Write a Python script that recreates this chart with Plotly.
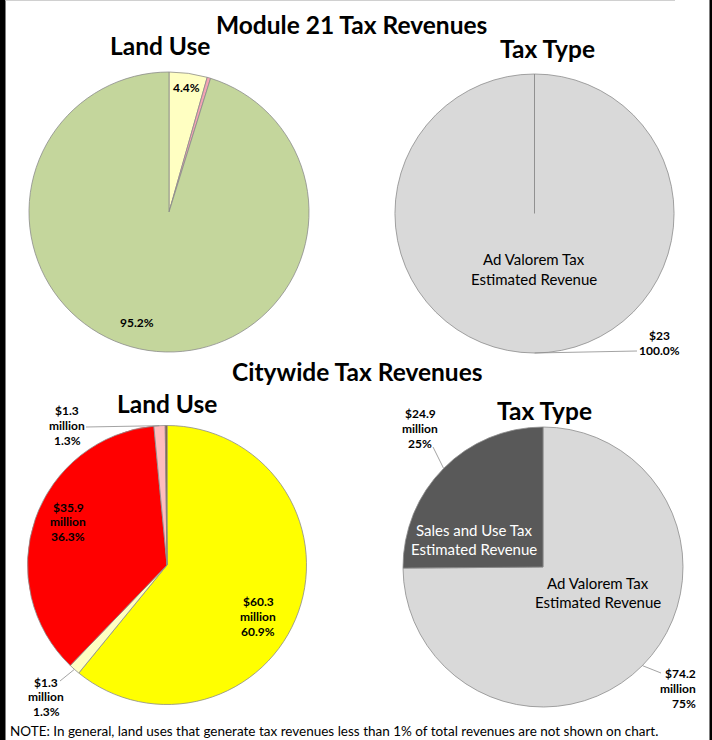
import math
import plotly.graph_objects as go

W, H = 712, 740
FONT = "Lato"

# ---------------- data ----------------
m21_land_labels = ["Commercial", "Office", "Residential"]
m21_land_pct = [4.4, 0.4, 95.2]
m21_land_colors = ["#FFFFC2", "#F4A3B4", "#C4D69C"]

m21_tax_labels = ["Ad Valorem Tax Estimated Revenue"]
m21_tax_pct = [100.0]
m21_tax_dollars = ["$23"]
m21_tax_colors = ["#D9D9D9"]

city_land_labels = ["Residential", "Commercial", "Industrial", "Office", "Other"]
city_land_pct = [60.9, 1.3, 36.3, 1.3, 0.2]
city_land_millions = [60.3, 1.3, 35.9, 1.3, None]
city_land_colors = ["#FFFF00", "#FFFFC2", "#FF0000", "#FFBDBD", "#8B4A2B"]

city_tax_labels = ["Ad Valorem Tax Estimated Revenue", "Sales and Use Tax Estimated Revenue"]
city_tax_millions = [74.2, 24.9]
city_tax_pct = [75, 25]
city_tax_colors = ["#D9D9D9", "#595959"]

# ---------------- layout helpers ----------------
def X(px):
    return px / W


def Y(py):
    return 1 - py / H


def dom(cx, cy, r):
    return dict(x=[X(cx - r), X(cx + r)], y=[Y(cy + r), Y(cy - r)])


def mid_point(values, idx, cx, cy, r):
    tot = sum(values)
    start = sum(values[:idx]) / tot * 360
    mid = start + values[idx] / tot * 360 / 2
    a = math.radians(mid)
    return cx + r * math.sin(a), cy - r * math.cos(a)


PIES = {
    "tl": (169, 212, 140),
    "tr": (534.5, 213.5, 139.5),
    "bl": (167, 565, 139.5),
    "br": (543, 567, 140),
}

fig = go.Figure()


def add_pie(key, labels, values, colors):
    cx, cy, r = PIES[key]
    fig.add_trace(go.Pie(
        labels=labels, values=values, sort=False, direction="clockwise",
        rotation=0, textinfo="none", hoverinfo="label+percent",
        marker=dict(colors=colors, line=dict(color="#8C8C8C", width=0.8)),
        domain=dom(cx, cy, r), showlegend=False,
    ))


add_pie("tl", m21_land_labels, m21_land_pct, m21_land_colors)
add_pie("tr", m21_tax_labels, m21_tax_pct, m21_tax_colors)
add_pie("bl", city_land_labels, city_land_pct, city_land_colors)
add_pie("br", city_tax_labels, city_tax_millions, city_tax_colors)

annotations = []
shapes = []


def text(s, x, y, size, bold=False, color="#000000", xanchor="center"):
    annotations.append(dict(
        text=f"<b>{s}</b>" if bold else s, x=X(x), y=Y(y), xref="paper", yref="paper",
        xanchor=xanchor, yanchor="middle", showarrow=False,
        font=dict(family=FONT, size=size, color=color),
    ))


def lines(strs, x, y0, step, size, bold=False, color="#000000", xanchor="center"):
    for i, s in enumerate(strs):
        text(s, x, y0 + i * step, size, bold, color, xanchor)


def leader(p0, p1):
    shapes.append(dict(type="line", xref="paper", yref="paper",
                       x0=X(p0[0]), y0=Y(p0[1]), x1=X(p1[0]), y1=Y(p1[1]),
                       line=dict(color="#8C8C8C", width=0.8)))


def pct(v):
    return f"{v}%"


def mil(v):
    return f"${v}"


def split2(s):
    return s.replace(" Estimated", "|Estimated").split("|")


TS = 24.5   # title size
LS = 12     # data label size
CS = 15     # category label size

# titles
text("Module 21 Tax Revenues", 351, 24, TS, bold=True)
text("Land Use", 160, 45, TS, bold=True)
text("Tax Type", 547, 48, TS, bold=True)
text("Citywide Tax Revenues", 358, 371, TS, bold=True)
text("Land Use", 167, 403, TS, bold=True)
text("Tax Type", 544, 410, TS, bold=True)

# --- Module 21 land use
text(pct(m21_land_pct[0]), 186, 87, LS, bold=True)
text(pct(m21_land_pct[2]), 137, 322, LS, bold=True)

# --- Module 21 tax type
cx, cy, r = PIES["tr"]
shapes.append(dict(type="line", xref="paper", yref="paper",
                   x0=X(cx), y0=Y(cy), x1=X(cx), y1=Y(cy - r),
                   line=dict(color="#7F7F7F", width=0.8)))
lines(split2(m21_tax_labels[0]), 534, 259, 20, CS)
leader(mid_point(m21_tax_pct, 0, *PIES["tr"]), (637, 351))
lines([m21_tax_dollars[0], f"{m21_tax_pct[0]:.1f}%"], 659, 335.5, 14.5, LS, bold=True)

# --- Citywide land use
lines([mil(city_land_millions[0]), "million", pct(city_land_pct[0])], 258, 601, 15, LS, bold=True)
lines([mil(city_land_millions[2]), "million", pct(city_land_pct[2])], 68, 507, 14.5, LS, bold=True)
leader(mid_point(city_land_pct, 3, *PIES["bl"]), (86, 427))
lines([mil(city_land_millions[3]), "million", pct(city_land_pct[3])], 67, 410, 15, LS, bold=True)
leader(mid_point(city_land_pct, 1, *PIES["bl"]), (60, 681))
lines([mil(city_land_millions[1]), "million", pct(city_land_pct[1])], 46, 682, 14.5, LS, bold=True)

# --- Citywide tax type
lines(split2(city_tax_labels[1]), 474, 530, 19, CS, color="#FFFFFF")
lines(split2(city_tax_labels[0]), 598, 583, 19, CS)
leader(mid_point(city_tax_millions, 1, *PIES["br"]), (433, 447))
lines([mil(city_tax_millions[1]), "million", pct(city_tax_pct[1])], 420, 413, 15, LS, bold=True)
leader(mid_point(city_tax_millions, 0, *PIES["br"]), (661, 673))
lines([mil(city_tax_millions[0]), "million", pct(city_tax_pct[0])], 698, 673, 15, LS, bold=True, xanchor="right")

# note
text("NOTE: In general, land uses that generate tax revenues less than 1% of total revenues are not shown on chart.",
     8, 731, 13.5, xanchor="left")

# frame
shapes.append(dict(type="rect", xref="paper", yref="paper", x0=0, x1=X(5.5), y0=0, y1=1,
                   fillcolor="#000000", line=dict(width=0), layer="above"))
shapes.append(dict(type="rect", xref="paper", yref="paper", x0=X(709.5), x1=1, y0=0, y1=1,
                   fillcolor="#000000", line=dict(width=0), layer="above"))
shapes.append(dict(type="line", xref="paper", yref="paper", x0=X(5.5), x1=X(675), y0=Y(0.5), y1=Y(0.5),
                   line=dict(color="#D0D0D0", width=1)))

fig.update_layout(
    width=W, height=H, margin=dict(l=0, r=0, t=0, b=0),
    paper_bgcolor="#FFFFFF", plot_bgcolor="#FFFFFF",
    annotations=annotations, shapes=shapes, showlegend=False,
    font=dict(family=FONT),
)

fig.write_html(
    "out.html",
    config={"displayModeBar": False},
    post_script="document.body.style.margin='0';document.body.style.overflow='hidden';",
)
